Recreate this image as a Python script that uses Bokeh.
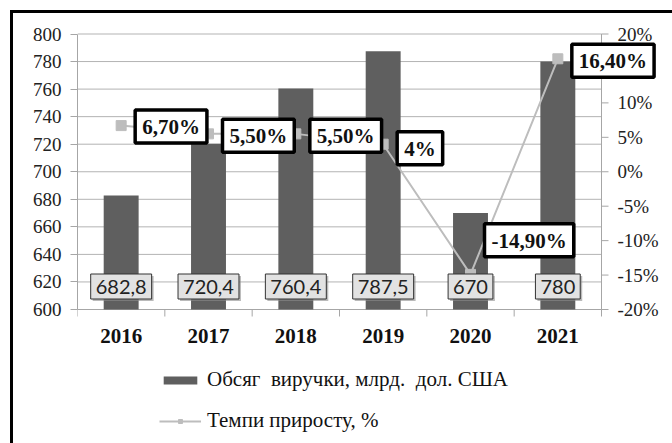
import math
from bokeh.plotting import figure
from bokeh.models import Range1d, FixedTicker, Legend, LegendItem, ColumnDataSource
from bokeh.core.properties import value
from bokeh.embed import file_html
from bokeh.resources import INLINE

# ---- data ----
years = ["2016", "2017", "2018", "2019", "2020", "2021"]
revenue = [682.8, 720.4, 760.4, 787.5, 670, 780]
revenue_labels = ["682,8", "720,4", "760,4", "787,5", "670", "780"]
growth = [6.7, 5.5, 5.5, 4.0, -14.9, 16.4]
growth_labels = ["6,70%", "5,50%", "5,50%", "4%", "-14,90%", "16,40%"]
left_ticks = [600, 620, 640, 660, 680, 700, 720, 740, 760, 780, 800]
right_ticks = [-20, -15, -10, -5, 0, 5, 10, 15, 20]
bar_name = "Обсяг  виручки, млрд.  дол. США"
line_name = "Темпи приросту, %"

# label placement (screen px offsets, style only)
growth_dy = [1, 2, 2, 4, -34, 2]

xs = list(range(len(years)))
x_lo, x_hi = xs[0] - 0.5, xs[-1] + 0.5
bounds_x = [i - 0.5 for i in range(len(xs) + 1)]
SERIF = value("Liberation Serif")
GRAY = "#a6a6a6"

# ---- geometry (pixels) ----
FRAME_W, FRAME_H = 595, 430
PLOT_W, PLOT_H = 524.0, 275.5       # the value area between the axes
TOP_GAP, BOTTOM_GAP = 20.5, 134.0   # extra room above / below the value area
cat_px = PLOT_W / len(xs)
ypx = PLOT_H / (left_ticks[-1] - left_ticks[0])
ppx = PLOT_H / (right_ticks[-1] - right_ticks[0])

src = ColumnDataSource(dict(x=xs, rev=revenue, rev_lab=revenue_labels,
                            g=growth, g_lab=growth_labels, dy=growth_dy,
                            base=[left_ticks[0]] * len(xs)))

p = figure(frame_width=FRAME_W, frame_height=FRAME_H,
           min_border_left=64, min_border_right=0, min_border_top=0, min_border_bottom=0,
           x_range=Range1d(x_lo, x_lo + FRAME_W / cat_px),
           y_range=Range1d(left_ticks[0] - BOTTOM_GAP / ypx, left_ticks[-1] + TOP_GAP / ypx),
           x_axis_location=None,
           output_backend="svg", toolbar_location=None)
p.extra_y_ranges = {"pct": Range1d(right_ticks[0] - BOTTOM_GAP / ppx, right_ticks[-1] + TOP_GAP / ppx)}
p.styles = {"margin-left": "10px", "margin-top": "10px",
            "border-left": "3px solid black", "border-top": "3px solid black"}
p.outline_line_color = None
p.background_fill_color = "white"
p.border_fill_color = "white"

# grid (limited to the value area)
p.xgrid.visible = False
p.ygrid.visible = False
p.segment(x0=[x_lo] * len(left_ticks), y0=left_ticks, x1=[x_hi] * len(left_ticks), y1=left_ticks,
          line_color="#b3b3b3", line_width=1)

# left axis
ya = p.yaxis[0]
ya.bounds = (left_ticks[0], left_ticks[-1])
ya.ticker = FixedTicker(ticks=left_ticks)
ya.axis_line_color = GRAY
ya.major_tick_line_color = GRAY
ya.major_tick_out = 7
ya.major_tick_in = 0
ya.minor_tick_line_color = None
ya.major_label_standoff = 9
ya.major_label_text_font = "Liberation Serif"
ya.major_label_text_font_size = "19px"
ya.major_label_text_color = "#222222"

# category axis along the 600 line
p.segment(x0=[x_lo], y0=[left_ticks[0]], x1=[x_hi], y1=[left_ticks[0]], line_color=GRAY, line_width=1)
p.ray(x=bounds_x, y=[left_ticks[0]] * len(bounds_x), length=7, length_units="screen",
      angle=-math.pi / 2, line_color=GRAY, line_width=1)
p.text(x=xs, y=[left_ticks[0]] * len(xs), text=years, y_offset=26,
       text_align="center", text_baseline="middle", text_font=SERIF,
       text_font_size="21px", text_font_style="bold", text_color="#111111")

# right (percent) axis
n_r = len(right_ticks)
p.segment(x0=[x_hi], y0=[right_ticks[0]], x1=[x_hi], y1=[right_ticks[-1]],
          y_range_name="pct", line_color=GRAY, line_width=1)
p.ray(x=[x_hi] * n_r, y=right_ticks, length=7, length_units="screen", angle=0,
      y_range_name="pct", line_color=GRAY, line_width=1)
p.text(x=[x_hi] * n_r, y=right_ticks, text=[f"{t}%" for t in right_ticks],
       y_range_name="pct", x_offset=16, text_align="left", text_baseline="middle",
       text_font=SERIF, text_font_size="19px", text_color="#222222")

# bars
bars = p.vbar(x="x", top="rev", bottom="base", width=0.4, source=src,
              fill_color="#5f5f5f", line_color=None)

# growth line
ln = p.line("x", "g", source=src, y_range_name="pct", line_color="#bdbdbd", line_width=2)
mk = p.scatter("x", "g", source=src, y_range_name="pct", marker="square", size=10,
               fill_color="#bdbdbd", line_color="#bdbdbd")

# bar value labels (shadow + box)
pad_bar = dict(left=5, right=5, top=6, bottom=5)
p.text("x", "base", text="rev_lab", source=src, x_offset=2, y_offset=-21,
       text_align="center", text_baseline="middle", text_font=value("Lato"),
       text_font_size="20px", text_alpha=0,
       background_fill_color="#8c8c8c", background_fill_alpha=0.6, padding=pad_bar)
p.text("x", "base", text="rev_lab", source=src, x_offset=0, y_offset=-23,
       text_align="center", text_baseline="middle", text_font=value("Lato"),
       text_font_size="20px", text_color="#222222",
       background_fill_color="#e2e2e2", border_line_color="#333333", border_line_width=1,
       padding=pad_bar)

# growth labels
p.text("x", "g", text="g_lab", source=src, y_range_name="pct", x_offset=14, y_offset="dy",
       text_align="left", text_baseline="middle", text_font=SERIF,
       text_font_size="21px", text_font_style="bold", text_color="#111111",
       background_fill_color="white", border_line_color="black", border_line_width=3.5,
       padding=dict(left=7, right=7, top=5, bottom=4))

# legend (inside the extended frame, below the categories)
legend = Legend(items=[LegendItem(label=bar_name, renderers=[bars]),
                       LegendItem(label=line_name, renderers=[ln, mk])],
                location=(82, 10), orientation="vertical",
                glyph_width=42, glyph_height=10, label_standoff=6, spacing=16,
                padding=0, margin=0, border_line_color=None, background_fill_alpha=0,
                label_text_font="Liberation Serif", label_text_font_size="21px",
                label_text_color="#111111")
p.add_layout(legend, "center")

open("out.html", "w").write(file_html(p, INLINE))
